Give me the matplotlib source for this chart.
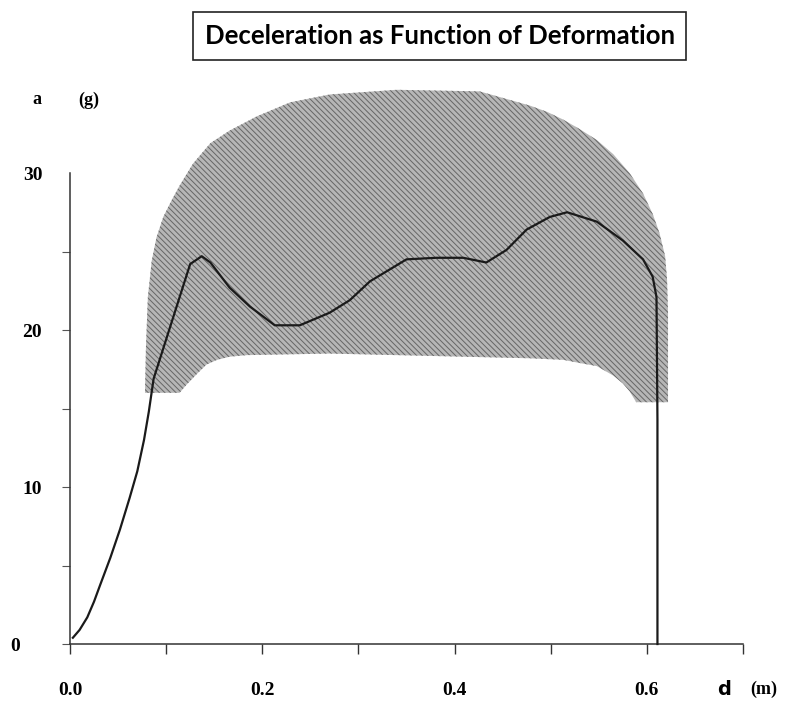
import matplotlib
matplotlib.use("Agg")
import matplotlib.pyplot as plt

# deformation d (m) vs deceleration a (g)
d_curve = [0.003, 0.010, 0.018, 0.025, 0.031, 0.042, 0.052, 0.062, 0.070, 0.077,
           0.082, 0.087, 0.125, 0.137, 0.146, 0.166, 0.187, 0.213, 0.239, 0.270,
           0.291, 0.312, 0.350, 0.381, 0.409, 0.433, 0.454, 0.475, 0.499, 0.517,
           0.548, 0.575, 0.596, 0.606, 0.610, 0.611, 0.611]
a_curve = [0.4, 0.9, 1.7, 2.7, 3.7, 5.5, 7.3, 9.3, 11.0, 13.0,
           14.8, 16.9, 24.2, 24.7, 24.3, 22.7, 21.5, 20.3, 20.3, 21.1,
           21.9, 23.1, 24.5, 24.6, 24.6, 24.3, 25.1, 26.4, 27.2, 27.5,
           26.9, 25.7, 24.5, 23.4, 22.1, 14.3, 0.0]

# shaded corridor outline (upper edge left->right, then lower edge right->left)
d_band = [0.078, 0.079, 0.081, 0.085, 0.090, 0.097, 0.106, 0.114, 0.128, 0.146,
          0.166, 0.194, 0.229, 0.270, 0.340, 0.426, 0.478, 0.496, 0.513, 0.530,
          0.548, 0.565, 0.582, 0.596, 0.606, 0.613, 0.619, 0.621, 0.622, 0.622,
          0.589, 0.582, 0.575, 0.565, 0.548, 0.530, 0.513, 0.478, 0.340, 0.270,
          0.184, 0.166, 0.153, 0.142, 0.132, 0.121, 0.114]
a_band = [16.0, 18.9, 22.1, 24.4, 25.9, 27.2, 28.3, 29.2, 30.6, 31.9,
          32.7, 33.6, 34.5, 35.0, 35.3, 35.2, 34.3, 33.9, 33.4, 32.8,
          32.1, 31.2, 30.0, 28.7, 27.4, 26.2, 24.7, 23.2, 21.1, 15.4,
          15.4, 16.1, 16.6, 17.1, 17.7, 17.9, 18.1, 18.2, 18.4, 18.5,
          18.4, 18.3, 18.1, 17.8, 17.2, 16.5, 16.0]

x_major = [0.0, 0.2, 0.4, 0.6]
x_minor = [0.1, 0.3, 0.5, 0.7]
y_major = [0, 10, 20, 30]
y_minor = [5, 15, 25]

plt.rcParams['hatch.linewidth'] = 0.7

fig = plt.figure(figsize=(7.98, 7.14), dpi=100)
ax = fig.add_axes([0.0877, 0.098, 0.8434, 0.6597])

# hatch takes the edge colour, so keep the edge but draw it with zero width
ax.fill(d_band, a_band, facecolor='#b6b6b6', edgecolor='#666666', lw=0,
        hatch='\\\\\\\\\\\\', clip_on=False, zorder=1)
ax.plot(d_curve, a_curve, color='#1a1a1a', lw=1.6, zorder=3, clip_on=False)

ax.set_xlim(0, 0.7)
ax.set_ylim(0, 30)
for s in ['top', 'right']:
    ax.spines[s].set_visible(False)
for s in ['left', 'bottom']:
    ax.spines[s].set_linewidth(1.1)
    ax.spines[s].set_color('#333333')

serif = dict(family='Liberation Serif', weight='bold')

ax.set_xticks(x_major)
ax.set_xticklabels(['0.0', '0.2', '0.4', '0.6'], fontsize=14, **serif)
ax.set_xticks(x_minor, minor=True)
ax.set_yticks(y_major)
ax.set_yticklabels(['0', '10', '20', '30'], fontsize=14, **serif)
ax.set_yticks(y_minor, minor=True)
ax.tick_params(axis='x', which='both', direction='out', length=7, width=1.0,
               color='#333333', pad=20)
ax.tick_params(axis='y', which='both', direction='out', length=6, width=0.8,
               color='#555555', pad=14)
ax.yaxis.get_major_ticks()[-1].tick1line.set_visible(False)
# the "0" sits further out on the scan
ax.yaxis.get_major_ticks()[0].label1.set_x(-0.033)

fig.text(0.551, 0.9496, 'Deceleration as Function of Deformation',
         ha='center', va='center', fontsize=18.5, family='Lato', weight='bold',
         bbox=dict(boxstyle='square,pad=0.45', facecolor='white',
                   edgecolor='#222222', linewidth=1.2))

fig.text(0.040, 0.860, 'a', ha='left', va='center', fontsize=13, **serif)
fig.text(0.098, 0.860, '(g)', ha='left', va='center', fontsize=13, **serif)
fig.text(0.899, 0.034, 'd', ha='left', va='center', fontsize=14,
         family='DejaVu Sans', weight='bold')
fig.text(0.940, 0.034, '(m)', ha='left', va='center', fontsize=13, **serif)

fig.savefig('out.png', dpi=100)
